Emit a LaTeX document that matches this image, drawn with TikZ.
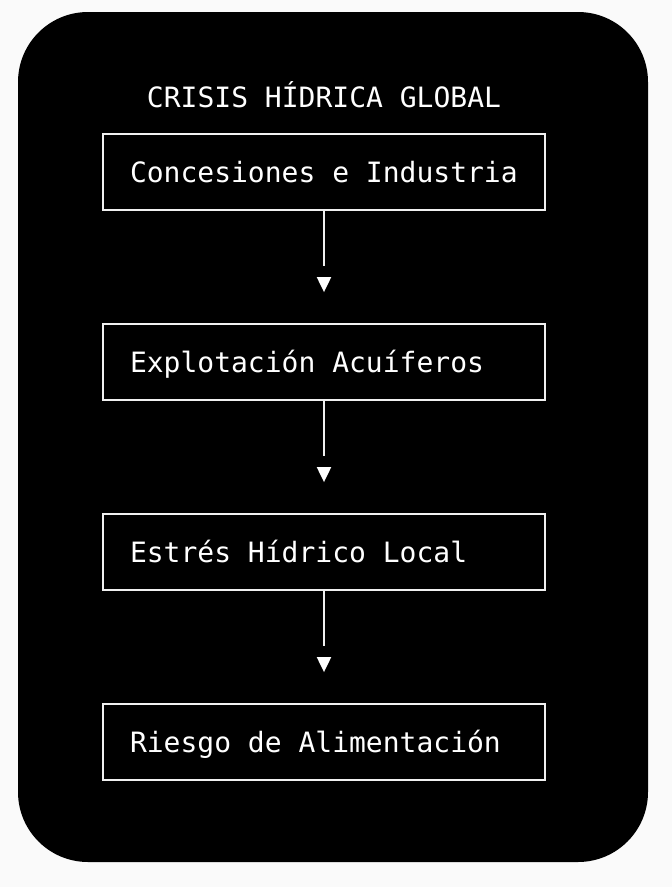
\documentclass[tikz,border=0pt]{standalone}
\usepackage{fontspec}
\setmonofont{DejaVu Sans Mono}
\usetikzlibrary{arrows.meta}

\begin{document}
\begin{tikzpicture}[x=1pt,y=-1pt,
    caja/.style={draw=white!88!gray, line width=1.8pt, minimum width=442pt, minimum height=76pt,
                 text width=388pt, inner xsep=27pt, align=flush left, text=white,
                 text height=20pt, text depth=0pt, font=\ttfamily\fontsize{28}{30}\selectfont},
    flecha/.style={draw=white!88!gray, line width=2pt, shorten >=31pt,
                 -{Rectangle[black,length=11pt,width=3pt,sep=0pt]Triangle[white,length=15pt,width=14pt]}}]
    % Fondo y marco
    \useasboundingbox (0,0) rectangle (672,887);
    \fill [white!98!black] (0,0) rectangle (672,887);
    \fill [black, rounded corners=70pt] (18,12) rectangle (648,862);
    % Titulo
    \node (titulo) [anchor=base, text=white, font=\ttfamily\fontsize{28}{30}\selectfont] at (324,107) {CRISIS HÍDRICA GLOBAL};
    % Cajas
    \node (concesiones) [caja] at (324,172) {Concesiones e Industria};
    \node (acuiferos) [caja] at (324,362) {Explotación Acuíferos};
    \node (estres) [caja] at (324,552) {Estrés Hídrico Local};
    \node (riesgo) [caja] at (324,742) {Riesgo de Alimentación};
    % Flechas
    \draw [flecha] (concesiones.south) -- (acuiferos.north);
    \draw [flecha] (acuiferos.south) -- (estres.north);
    \draw [flecha] (estres.south) -- (riesgo.north);
\end{tikzpicture}
\end{document}
